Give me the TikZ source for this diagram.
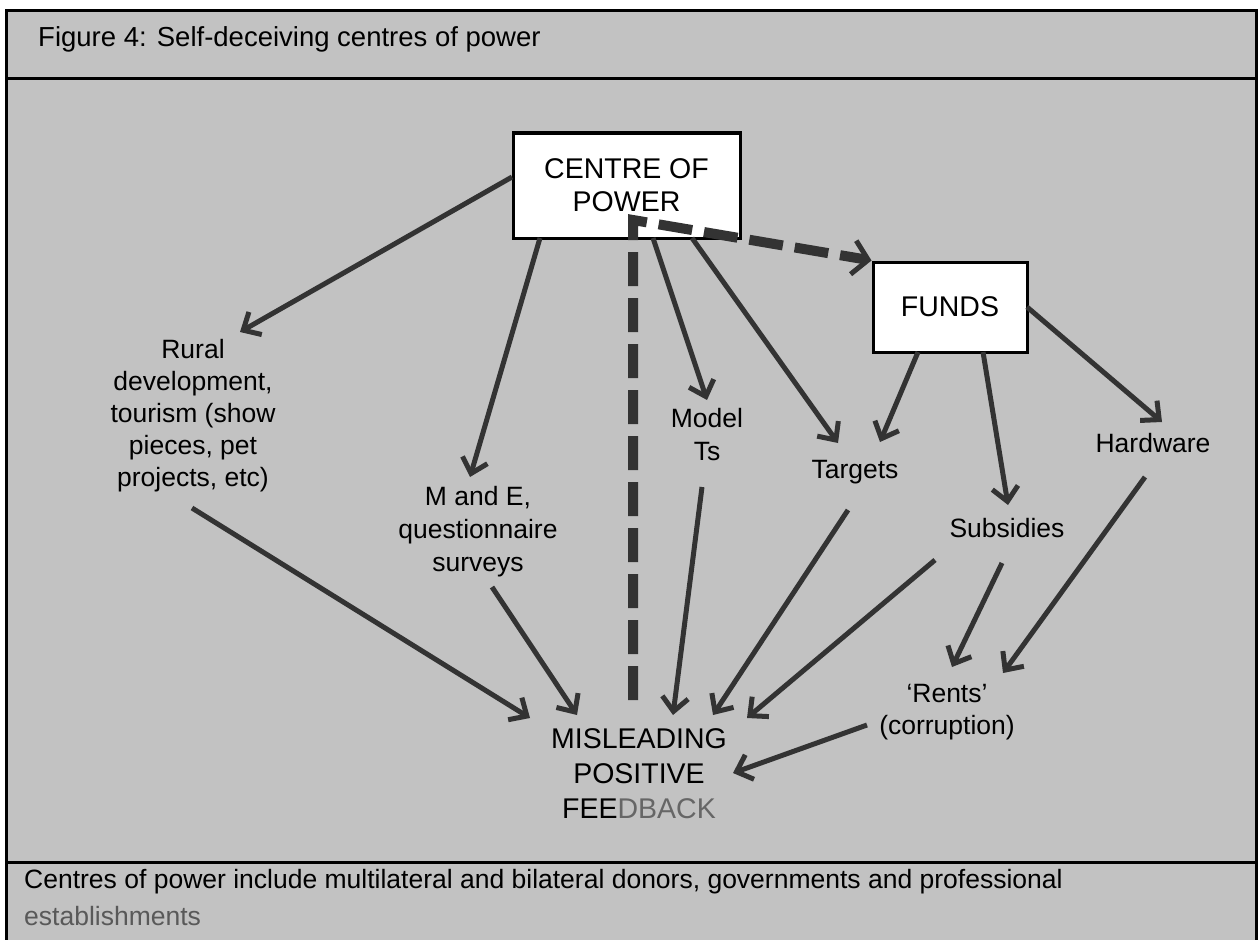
\documentclass[tikz,border=0pt]{standalone}
\usepackage{fontspec}
\setmainfont{Liberation Sans}
\usetikzlibrary{arrows.meta}
\definecolor{bg}{HTML}{C2C2C2}
\definecolor{ink}{HTML}{333333}
\begin{document}
\begin{tikzpicture}[x=1pt,y=-1pt,
  lbl/.style={align=center, font=\fontsize{26.5}{32}\selectfont, inner sep=0pt},
  boxnode/.style={draw=black, fill=white, line width=3pt, align=center, font=\fontsize{28.5}{33}\selectfont, inner sep=0pt},
  arr/.style={draw=ink, line width=5pt, -{Straight Barb[length=14pt,width=26pt]}},
  fb/.style={draw=ink, line width=10pt, dash pattern=on 34pt off 12pt, -{Straight Barb[length=15pt,width=34pt,line width=5pt]}},
  frame/.style={draw=black, line width=3pt}]
\useasboundingbox (0,0) rectangle (1260,939);
\fill[white] (0,0) rectangle (1260,939);
\draw[frame, fill=bg] (6,11) rectangle (1256,960);
\draw[frame] (6,79) -- (1256,79);
\draw[frame] (6,862) -- (1256,862);
% title and caption
\node[anchor=base west, inner sep=0pt, font=\fontsize{27.5}{33}\selectfont] (title) at (38,47) {Figure 4: Self-deceiving centres of power};
\node[anchor=base west, inner sep=0pt, font=\fontsize{26.5}{32}\selectfont] (caption1) at (24,888) {Centres of power include multilateral and bilateral donors, governments and professional};
\node[anchor=base west, inner sep=0pt, font=\fontsize{26.5}{32}\selectfont, text=black!65] (caption2) at (24,925) {establishments};
% boxes
\node[boxnode, minimum width=227pt, minimum height=105pt] (cop) at (626.5,185.5) {CENTRE OF\\POWER};
\node[boxnode, minimum width=154pt, minimum height=90pt] (funds) at (950,307) {FUNDS};
% labels
\node[lbl] (rural) at (193,416) {Rural\\development,\\tourism (show\\pieces, pet\\projects, etc)};
\node[lbl, font=\fontsize{26.5}{33}\selectfont] (mande) at (478,532) {M and E,\\questionnaire\\surveys};
\node[lbl, font=\fontsize{26.5}{33}\selectfont] (model) at (707,434.5) {Model\\Ts};
\node[lbl] (targets) at (855,472) {Targets};
\node[lbl] (subs) at (1007,528) {Subsidies};
\node[lbl] (hard) at (1153,443) {Hardware};
\node[lbl] (rents) at (947,712) {`Rents'\\(corruption)};
\node[lbl, font=\fontsize{28.5}{35}\selectfont] (mis) at (639,774) {MISLEADING\\POSITIVE\\FEE\textcolor{black!60}{DBACK}};
% feedback dashed line
\draw[fb] ([shift={(-6,-74)}]mis.center) -- ([shift={(6.5,34.5)}]cop.center) -- (funds.north west);
% arrows
\draw[arr] ([shift={(-114.5,-8.5)}]cop.center) -- ([shift={(47,-84)}]rural.center);
\draw[arr] ([shift={(-86.5,52.5)}]cop.center) -- ([shift={(-8,-55)}]mande.center);
\draw[arr] ([shift={(26.5,52.5)}]cop.center) -- ([shift={(0,-34.5)}]model.center);
\draw[arr] ([shift={(65.5,52.5)}]cop.center) -- ([shift={(-17,-29)}]targets.center);
\draw[arr] ([shift={(-32,45)}]funds.center) -- ([shift={(25,-30)}]targets.center);
\draw[arr] ([shift={(33,45)}]funds.center) -- ([shift={(1,-23)}]subs.center);
\draw[arr] ([shift={(77,0)}]funds.center) -- ([shift={(9,-21)}]hard.center);
\draw[arr] ([shift={(-1,92)}]rural.center) -- ([shift={(-109,-56)}]mis.center);
\draw[arr] ([shift={(14,55)}]mande.center) -- ([shift={(-62,-59)}]mis.center);
\draw[arr] ([shift={(-5,52.5)}]model.center) -- ([shift={(34,-59)}]mis.center);
\draw[arr] ([shift={(-7,38)}]targets.center) -- ([shift={(74,-59)}]mis.center);
\draw[arr] ([shift={(-72,32)}]subs.center) -- ([shift={(108,-56)}]mis.center);
\draw[arr] ([shift={(-5,35)}]subs.center) -- ([shift={(5,-45)}]rents.center);
\draw[arr] ([shift={(-8,34)}]hard.center) -- ([shift={(56,-39)}]rents.center);
\draw[arr] ([shift={(-80,13)}]rents.center) -- ([shift={(94,-1)}]mis.center);
\end{tikzpicture}
\end{document}
